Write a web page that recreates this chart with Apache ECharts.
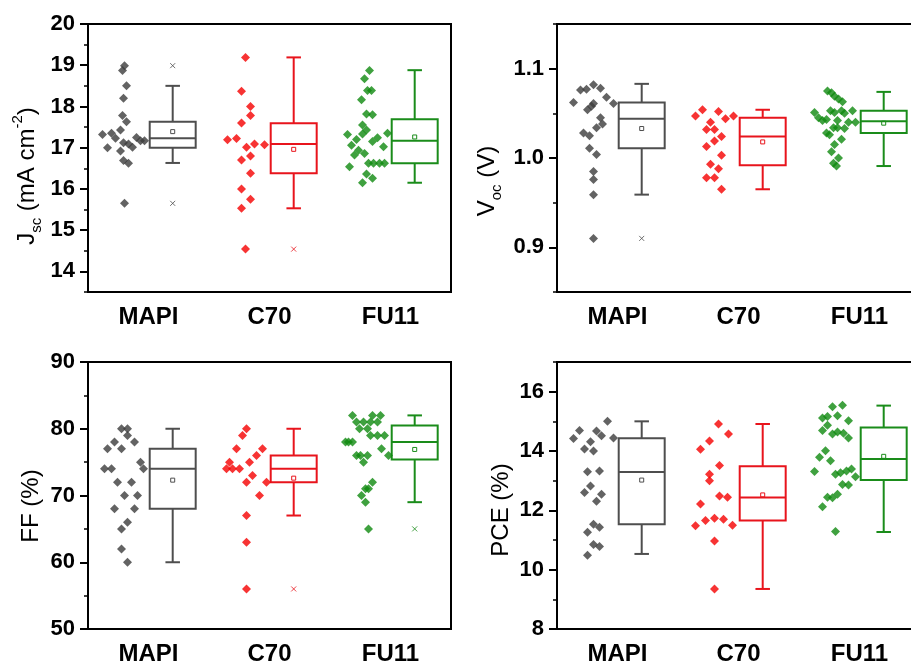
<!DOCTYPE html>
<html>
<head>
<meta charset="utf-8">
<script src="https://cdn.jsdelivr.net/npm/echarts@6/dist/echarts.min.js"></script>
<style>
  html, body { margin: 0; background: #fff; }
  #chart { width: 911px; height: 663px; }
</style>
</head>
<body>
<div id="chart"></div>
<script>
// categories
const groups = ['MAPI', 'C70', 'FU11'];

// Jsc (mA cm-2): device values and their horizontal spread (px from category centre)
const jscMapi = [18.99, 18.87, 18.50, 18.20, 17.78, 17.63, 17.43, 17.32, 17.35, 17.23, 17.25, 17.17, 17.17, 17.12, 17.09, 17.01, 17.00, 16.92, 16.69, 16.62, 15.65];
const jscMapiDx = [-24, -26, -22, -25, -26, -22, -28, -46, -37, -33, -12, -8, -4, -25, -20, -16, -41, -28, -25, -20, -24];
const jscC70 = [19.19, 18.37, 18.00, 17.78, 17.60, 17.19, 17.22, 17.01, 17.09, 17.07, 16.70, 16.80, 16.38, 16.00, 15.75, 15.53, 14.54];
const jscC70Dx = [-24, -28, -19, -19, -28, -42, -33, -23, -15, -5, -28, -19, -19, -28, -19, -28, -24];
const jscFu11 = [18.87, 18.67, 18.39, 18.39, 18.16, 17.82, 17.80, 17.55, 17.43, 17.33, 17.32, 17.35, 17.20, 17.24, 17.15, 17.06, 17.02, 16.94, 16.82, 16.86, 16.62, 16.62, 16.62, 16.62, 16.54, 16.36, 16.26, 16.15];
const jscFu11Dx = [-21, -26, -23, -19, -29, -24, -18, -28, -24, -28, -43, -3, -34, -13, -18, -39, -7, -32, -36, -26, -22, -17, -11, -6, -41, -24, -18, -28];
// box stats per group: [whisker low, q1, median, q3, whisker high, mean]
const jscBox = [[16.63, 17.00, 17.23, 17.63, 18.50, 17.39], [15.53, 16.38, 17.09, 17.59, 19.19, 16.96], [16.15, 16.62, 17.17, 17.69, 18.88, 17.26]];
const jscOut = [[18.99, 15.65], [14.54], []];

// Voc (V)
const vocMapi = [1.062, 1.076, 1.077, 1.082, 1.078, 1.068, 1.061, 1.061, 1.058, 1.054, 1.045, 1.038, 1.034, 1.028, 1.025, 1.011, 1.004, 0.985, 0.976, 0.959, 0.910];
const vocMapiDx = [-44, -37, -31, -24, -17, -11, -4, -24, -26, -30, -17, -15, -21, -34, -28, -28, -21, -24, -24, -24, -24];
const vocC70 = [1.047, 1.054, 1.052, 1.044, 1.047, 1.040, 1.032, 1.032, 1.024, 1.019, 1.013, 1.003, 0.993, 0.988, 0.978, 0.978, 0.965];
const vocC70Dx = [-43, -36, -20, -13, -5, -28, -32, -24, -17, -24, -32, -17, -28, -20, -32, -24, -17];
const vocFu11 = [1.075, 1.073, 1.069, 1.066, 1.063, 1.051, 1.045, 1.042, 1.043, 1.053, 1.051, 1.053, 1.050, 1.053, 1.042, 1.040, 1.040, 1.034, 1.034, 1.033, 1.028, 1.026, 1.021, 1.015, 1.007, 1.000, 0.994, 0.991];
const vocFu11Dx = [-32, -28, -25, -21, -17, -45, -41, -37, -33, -29, -25, -18, -15, -7, -22, -11, -4, -26, -22, -15, -33, -30, -18, -25, -28, -21, -26, -23];
const vocBox = [[0.959, 1.011, 1.044, 1.062, 1.083, 1.033], [0.965, 0.992, 1.024, 1.045, 1.054, 1.018], [0.991, 1.028, 1.041, 1.053, 1.074, 1.039]];
const vocOut = [[0.910], [], []];

// FF (%)
const ffMapi = [80, 80, 78, 79, 78, 77, 77, 75, 74, 74, 74, 72, 72, 70, 70, 68, 68, 66, 65, 62, 60];
const ffMapiDx = [-27, -21, -34, -21, -14, -41, -27, -8, -44, -37, -5, -31, -17, -24, -11, -34, -14, -21, -27, -27, -21];
const ffC70 = [80, 79, 77, 77, 76, 75, 75, 74, 74, 74, 73, 72, 72, 70, 67, 63, 56];
const ffC70Dx = [-23, -27, -33, -7, -13, -40, -20, -43, -37, -30, -17, -23, -3, -10, -23, -23, -23];
const ffFu11 = [82, 82, 82, 81, 81, 81, 81, 80, 80, 79, 79, 79, 78, 78, 78, 77, 76, 76, 76, 76, 75, 72, 71, 71, 70, 69, 65];
const ffFu11Dx = [-38, -18, -10, -34, -27, -20, -13, -31, -23, -20, -13, -6, -45, -42, -38, -9, -34, -30, -23, -2, -27, -18, -25, -22, -29, -25, -22];
const ffBox = [[60, 68, 74, 77, 80, 72.3], [67, 72, 74, 76, 80, 72.6], [69, 75.4, 78, 80.5, 82, 76.9]];
const ffOut = [[], [56], [65]];

// PCE (%)
const pceMapi = [15.00, 14.69, 14.67, 14.51, 14.42, 14.31, 14.44, 14.07, 14.00, 13.30, 13.33, 12.82, 12.60, 12.54, 12.31, 11.53, 11.43, 11.26, 10.85, 10.78, 10.49];
const pceMapiDx = [-10, -38, -21, -16, -44, -27, -4, -33, -24, -30, -18, -27, -33, -16, -21, -24, -18, -30, -24, -18, -30];
const pceC70 = [14.91, 14.57, 14.34, 14.06, 13.51, 13.22, 13.00, 12.48, 12.44, 12.21, 11.66, 11.73, 11.70, 11.48, 11.50, 10.97, 9.35];
const pceC70Dx = [-20, -10, -29, -38, -19, -29, -29, -19, -11, -38, -33, -24, -15, -43, -6, -24, -24];
const pceFu11 = [15.49, 15.54, 15.11, 15.16, 15.19, 15.02, 14.69, 14.87, 14.57, 14.64, 14.60, 14.44, 14.01, 13.79, 13.67, 13.31, 13.22, 13.27, 13.33, 13.39, 13.13, 12.87, 12.85, 12.44, 12.42, 12.54, 12.12, 11.29];
const pceFu11Dx = [-27, -17, -37, -32, -22, -11, -37, -32, -27, -22, -16, -11, -34, -40, -29, -45, -24, -19, -13, -8, -4, -17, -11, -32, -27, -22, -37, -24];
const pceBox = [[10.53, 11.53, 13.29, 14.43, 15.00, 13.02], [9.35, 11.66, 12.43, 13.49, 14.91, 12.52], [11.27, 13.02, 13.73, 14.79, 15.53, 13.82]];
const pceOut = [[], [], []];

const pointColors = ['#3c3c3c', '#f50000', '#0f8a0f'];
const boxColors = ['#4e4e4e', '#e8141c', '#1a8c1a'];
const BAND_PX = 121;         // width of one category band in the reference, px
const BOX_SHIFT = 0.2;       // box centre offset within band
const BOX_WIDTH = 0.38;
const CAP_WIDTH = 0.12;
const FONT = '"Liberation Sans", Arial, sans-serif';

const panels = [
    { left: 88, top: 24, height: 268, min: 13.5, max: 20, minor: 0.5, major: 1, digits: 0,
      sets: [[jscMapi, jscMapiDx], [jscC70, jscC70Dx], [jscFu11, jscFu11Dx]], box: jscBox, out: jscOut },
    { left: 557, top: 24, height: 268, min: 0.85, max: 1.15, minor: 0.05, major: 0.1, digits: 1,
      sets: [[vocMapi, vocMapiDx], [vocC70, vocC70Dx], [vocFu11, vocFu11Dx]], box: vocBox, out: vocOut },
    { left: 88, top: 362, height: 267, min: 50, max: 90, minor: 5, major: 10, digits: 0,
      sets: [[ffMapi, ffMapiDx], [ffC70, ffC70Dx], [ffFu11, ffFu11Dx]], box: ffBox, out: ffOut },
    { left: 557, top: 362, height: 267, min: 8, max: 17, minor: 1, major: 2, digits: 0,
      sets: [[pceMapi, pceMapiDx], [pceC70, pceC70Dx], [pceFu11, pceFu11Dx]], box: pceBox, out: pceOut }
];

function isMajor(v, step) {
    const r = v / step;
    return Math.abs(r - Math.round(r)) < 1e-6;
}

function majorValues(p) {
    const list = [];
    const first = Math.ceil(p.min / p.major - 1e-9);
    for (let k = first; k * p.major <= p.max + 1e-9; k++) {
        list.push(+(k * p.major).toFixed(6));
    }
    return list;
}

function renderBox(params, api) {
    const g = api.value(0);
    const xc = g + 0.5 + BOX_SHIFT;
    const color = boxColors[g];
    const half = api.size([BOX_WIDTH, 0])[0] / 2;
    const capHalf = api.size([CAP_WIDTH, 0])[0] / 2;
    const lo = api.coord([xc, api.value(1)]);
    const q1 = api.coord([xc, api.value(2)]);
    const med = api.coord([xc, api.value(3)]);
    const q3 = api.coord([xc, api.value(4)]);
    const hi = api.coord([xc, api.value(5)]);
    const mean = api.coord([xc, api.value(6)]);
    const stroke = { stroke: color, lineWidth: 2, fill: null };
    const x = lo[0];
    return {
        type: 'group',
        children: [
            { type: 'line', shape: { x1: x, y1: hi[1], x2: x, y2: q3[1] }, style: stroke },
            { type: 'line', shape: { x1: x, y1: q1[1], x2: x, y2: lo[1] }, style: stroke },
            { type: 'line', shape: { x1: x - capHalf, y1: hi[1], x2: x + capHalf, y2: hi[1] }, style: stroke },
            { type: 'line', shape: { x1: x - capHalf, y1: lo[1], x2: x + capHalf, y2: lo[1] }, style: stroke },
            { type: 'rect', shape: { x: x - half, y: q3[1], width: half * 2, height: q1[1] - q3[1] }, style: stroke },
            { type: 'line', shape: { x1: x - half, y1: med[1], x2: x + half, y2: med[1] }, style: stroke },
            { type: 'rect', shape: { x: x - 2, y: mean[1] - 2, width: 4, height: 4 }, style: { stroke: color, lineWidth: 1, fill: null } }
        ]
    };
}

const grid = [];
const xAxis = [];
const yAxis = [];
const series = [];

panels.forEach(function (p, i) {
    grid.push({
        left: p.left, top: p.top, width: 363, height: p.height,
        outerBoundsMode: 'none', containLabel: false,
        show: true, borderColor: '#000', borderWidth: 2, backgroundColor: 'transparent'
    });
    // visible category axis
    xAxis.push({
        gridIndex: i, type: 'category', data: groups, boundaryGap: true,
        axisLine: { lineStyle: { color: '#000', width: 2 } },
        axisTick: { alignWithLabel: true, length: 5, lineStyle: { color: '#000', width: 2 } },
        axisLabel: { color: '#000', fontFamily: FONT, fontWeight: 'bold', fontSize: 24, margin: 13 },
        splitLine: { show: false }
    });
    // hidden value axis used to place boxes and points inside each band
    xAxis.push({ gridIndex: i, type: 'value', min: 0, max: 3, show: false });
    yAxis.push({
        gridIndex: i, type: 'value', min: p.min, max: p.max, interval: p.minor,
        axisLine: { show: true, lineStyle: { color: '#000', width: 2 } },
        axisTick: { show: true, length: 4, lineStyle: { color: '#000', width: 1.5 } },
        axisLabel: {
            color: '#000', fontFamily: FONT, fontWeight: 'bold', fontSize: 22, margin: 13,
            formatter: function (v) { return isMajor(v, p.major) ? v.toFixed(p.digits) : ''; }
        },
        splitLine: { show: false }
    });
    // overlay axis only for the longer major ticks
    yAxis.push({
        gridIndex: i, type: 'value', min: p.min, max: p.max, position: 'left', offset: 0,
        axisLine: { show: false },
        axisTick: { show: true, length: 8, customValues: majorValues(p), lineStyle: { color: '#000', width: 2 } },
        axisLabel: { show: false },
        splitLine: { show: false }
    });

    p.sets.forEach(function (set, g) {
        const values = set[0];
        const dx = set[1];
        series.push({
            type: 'scatter', xAxisIndex: 2 * i + 1, yAxisIndex: 2 * i,
            symbol: 'diamond', symbolSize: 9,
            itemStyle: { color: pointColors[g] },
            data: values.map(function (v, k) { return [g + 0.5 + dx[k] / BAND_PX, v]; }),
            silent: true, z: 3
        });
        series.push({
            type: 'scatter', xAxisIndex: 2 * i + 1, yAxisIndex: 2 * i,
            symbol: 'path://M0,0L10,10M10,0L0,10', symbolSize: 5,
            itemStyle: { color: 'none', borderColor: boxColors[g], borderWidth: 1 },
            data: p.out[g].map(function (v) { return [g + 0.5 + BOX_SHIFT, v]; }),
            silent: true, z: 3
        });
    });

    series.push({
        type: 'custom', xAxisIndex: 2 * i + 1, yAxisIndex: 2 * i,
        renderItem: renderBox,
        encode: { x: 0, y: [1, 2, 3, 4, 5] },
        data: p.box.map(function (b, g) { return [g].concat(b); }),
        silent: true, z: 2
    });
});

function titleText(x, y, text) {
    return {
        type: 'text', x: x, y: y, rotation: Math.PI / 2, silent: true,
        style: {
            text: text, fill: '#000', fontFamily: FONT, fontSize: 24, lineHeight: 34,
            align: 'center', verticalAlign: 'middle',
            rich: {
                sub: { fontFamily: FONT, fontSize: 15, lineHeight: 15, verticalAlign: 'bottom', fill: '#000' },
                sup: { fontFamily: FONT, fontSize: 15, lineHeight: 15, verticalAlign: 'top', fill: '#000' }
            }
        }
    };
}

const chart = echarts.init(document.getElementById('chart'), null, { renderer: 'canvas' });
chart.setOption({
    animation: false,
    backgroundColor: '#fff',
    grid: grid,
    xAxis: xAxis,
    yAxis: yAxis,
    series: series,
    graphic: [
        titleText(27, 176, 'J{sub|sc} (mA cm{sup|-2})'),
        titleText(487, 181, 'V{sub|oc} (V)'),
        titleText(31, 506, 'FF (%)'),
        titleText(501, 510, 'PCE (%)')
    ]
});
</script>
</body>
</html>
